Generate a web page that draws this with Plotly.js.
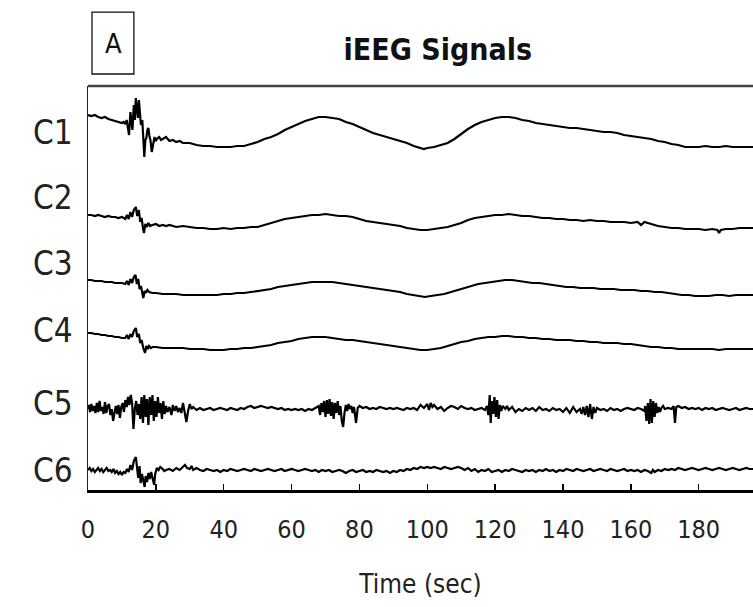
<!DOCTYPE html>
<html>
<head>
<meta charset="utf-8">
<script src="https://cdn.plot.ly/plotly-3.0.1.min.js"></script>
<style>html,body{margin:0;padding:0;background:#fff;}#chart{width:753px;height:607px;}</style>
</head>
<body>
<div id="chart"></div>
<script>
// ---- data: [time (sec), amplitude] per channel ----
const channels = ["C1", "C2", "C3", "C4", "C5", "C6"];
const baselines = [358, 270, 203, 147, 81, 20];
const xTicks = [0, 20, 40, 60, 80, 100, 120, 140, 160, 180];

const c1 = [[0,17],[1,16],[2,17],[3,15],[4,14],[5,15],[6,13],[7,12],[8,11],[9,10],[10,9],[10.5,10],[11,8],[11.4,12],[11.8,4],[12.1,-3],[12.5,20],[12.8,6],[13.1,2],[13.5,27],[13.8,12],[14.1,34],[14.4,20],[14.7,14],[15,32],[15.3,18],[15.6,7],[16,12],[16.3,-5],[16.6,-25],[16.9,-8],[17.2,-6],[17.5,2],[17.8,4],[18.1,-4],[18.4,-8],[18.8,-20],[19.2,-12],[19.6,-5],[20,-9],[20.5,-6],[21,-5],[21.5,-8],[22,-7],[23,-5],[24,-9],[25,-8],[26,-10],[27,-9],[28,-11],[30,-11],[32,-13],[34,-14],[36,-14],[38,-15],[40,-15],[42,-15],[44,-14],[46,-14],[48,-12],[50,-10],[52,-7],[54,-5],[56,-2],[58,2],[60,5],[62,8],[64,11],[66,13],[68,15],[70,15],[72,14],[74,13],[76,10],[78,8],[80,5],[82,2],[84,-1],[86,-3],[88,-5],[90,-7],[92,-9],[94,-11],[96,-14],[98,-16],[99,-17],[100,-16],[102,-15],[104,-13],[106,-11],[108,-7],[110,-2],[112,3],[114,7],[116,10],[118,12],[120,14],[122,15],[124,15],[126,14],[128,12],[130,11],[132,9],[134,8],[136,7],[138,6],[140,5],[142,4],[144,4],[146,3],[148,2],[150,1],[152,0],[154,0],[156,-1],[158,-3],[160,-4],[162,-5],[164,-6],[166,-7],[168,-9],[170,-10],[172,-12],[174,-13],[176,-15],[178,-15],[180,-15],[182,-14],[184,-15],[186,-15],[188,-14],[190,-15],[192,-15],[194,-15],[196,-15]];

const c2 = [[0,5],[1,5],[2,4],[3,5],[4,4],[5,3],[6,4],[7,3],[8,3],[9,2],[10,3],[11,1],[11.5,5],[12,1],[12.5,8],[13,3],[13.5,10],[14.1,13],[14.5,4],[15,10],[15.4,-2],[15.8,2],[16.2,-8],[16.5,-13],[16.9,-4],[17.3,-7],[17.8,-3],[18.3,-6],[19,-5],[20,-4],[21,-6],[22,-5],[23,-6],[24,-5],[26,-7],[28,-6],[30,-7],[32,-8],[34,-8],[36,-9],[38,-9],[40,-8],[42,-9],[44,-8],[46,-8],[48,-7],[50,-7],[52,-5],[54,-3],[56,-1],[58,1],[60,2],[62,3],[64,4],[66,5],[68,5],[70,6],[72,5],[74,4],[76,4],[78,3],[80,1],[82,-1],[84,-2],[86,-3],[88,-4],[90,-5],[92,-6],[94,-8],[96,-9],[98,-10],[100,-10],[102,-9],[104,-8],[106,-7],[108,-5],[110,-3],[112,0],[114,2],[116,3],[118,4],[120,5],[122,5],[124,6],[126,5],[128,4],[130,4],[132,3],[134,2],[136,2],[138,1],[140,1],[142,0],[144,0],[146,-1],[148,0],[150,-1],[152,-1],[154,-2],[156,-2],[158,-2],[160,-3],[162,-2],[163,-5],[164,-2],[166,-4],[168,-6],[170,-7],[172,-8],[174,-8],[176,-9],[178,-9],[180,-9],[182,-10],[184,-9],[185.5,-10],[186,-13],[186.5,-10],[188,-9],[190,-9],[192,-8],[194,-8],[196,-8]];

const c3 = [[0,7],[1,7],[2,6],[3,6],[4,6],[5,5],[6,5],[7,5],[8,4],[9,4],[10,4],[11,3],[11.5,6],[12,2],[12.5,8],[13,4],[13.5,10],[14,12],[14.4,3],[14.8,8],[15.2,-2],[15.6,1],[16,-6],[16.3,-11],[16.7,-4],[17,-6],[17.5,-3],[18,-5],[19,-6],[20,-6],[22,-7],[24,-7],[26,-7],[28,-8],[30,-8],[32,-8],[34,-8],[36,-8],[38,-8],[40,-7],[42,-7],[44,-6],[46,-6],[48,-5],[50,-4],[52,-3],[54,-2],[56,0],[58,1],[60,2],[62,3],[64,4],[66,5],[68,5],[70,5],[72,5],[74,4],[76,3],[78,2],[80,1],[82,0],[84,-1],[86,-2],[88,-3],[90,-4],[92,-5],[94,-7],[96,-8],[98,-9],[99.3,-10],[101,-9],[103,-8],[105,-7],[107,-5],[109,-3],[111,-1],[113,1],[115,3],[117,4],[119,5],[121,6],[123,7],[125,7],[127,6],[129,5],[131,4],[133,4],[135,3],[137,2],[139,1],[141,0],[143,0],[145,-1],[147,-1],[149,-1],[151,-2],[153,-2],[155,-2],[157,-3],[159,-3],[161,-3],[163,-4],[165,-4],[167,-5],[169,-5],[171,-6],[173,-7],[175,-8],[177,-8],[179,-9],[181,-9],[183,-9],[185,-8],[187,-8],[189,-9],[191,-8],[193,-8],[196,-8]];

const c4 = [[0,10],[1,10],[2,9],[3,9],[4,8],[5,8],[6,7],[7,7],[8,6],[9,6],[10,5],[11,5],[11.5,8],[12,4],[12.5,9],[13,6],[13.5,12],[14.1,15],[14.5,6],[15,9],[15.4,0],[15.8,3],[16.3,-5],[16.8,-10],[17.2,-3],[17.6,-6],[18,-3],[18.5,-5],[19,-4],[20,-4],[22,-5],[24,-5],[26,-5],[28,-5],[30,-6],[32,-6],[34,-6],[36,-7],[38,-7],[40,-7],[42,-6],[44,-6],[46,-5],[48,-5],[50,-4],[52,-3],[54,-2],[56,0],[58,1],[60,2],[62,4],[64,5],[66,6],[68,6],[70,6],[72,5],[74,4],[76,3],[78,3],[80,2],[82,1],[84,0],[86,-1],[88,-2],[90,-3],[92,-4],[94,-5],[96,-6],[98,-7],[100,-7],[102,-6],[104,-5],[106,-3],[108,-1],[110,1],[112,2],[114,4],[116,5],[118,6],[120,6],[122,7],[124,7],[126,6],[128,6],[130,5],[132,5],[134,4],[136,4],[138,3],[140,3],[142,3],[144,2],[146,2],[148,1],[150,1],[152,0],[154,0],[156,0],[158,-1],[160,-1],[162,-2],[164,-3],[166,-4],[168,-4],[170,-5],[172,-5],[174,-6],[176,-6],[178,-6],[180,-6],[182,-6],[184,-6],[186,-7],[188,-6],[190,-6],[192,-6],[194,-6],[196,-6]];

const c5 = [[0,0],[0.3,4],[0.6,-3],[1,5],[1.4,-2],[1.8,3],[2.2,-4],[2.6,6],[3,-3],[3.4,8],[3.8,-2],[4.2,2],[4.6,-5],[5,7],[5.4,-4],[5.8,3],[6.2,5],[6.6,-6],[7,0],[7.4,-12],[7.8,-4],[8.2,3],[8.6,-5],[9,4],[9.4,-9],[9.8,2],[10.2,6],[10.6,-3],[11,9],[11.4,2],[11.8,12],[12.2,4],[12.6,14],[13,6],[13.4,-20],[13.8,0],[14.2,8],[14.6,-6],[15,5],[15.4,-10],[15.8,12],[16.2,-14],[16.6,14],[17,-8],[17.4,10],[17.8,-16],[18.2,12],[18.6,-6],[19,14],[19.4,-12],[19.8,8],[20.2,-8],[20.6,12],[21,-4],[21.4,6],[21.8,-10],[22.2,8],[22.6,-5],[23,3],[23.4,-3],[24,2],[24.6,-6],[25,4],[25.5,-2],[26,3],[26.5,-3],[27,1],[27.5,-4],[28,6],[28.5,-3],[29,-13],[29.5,-2],[30,5],[30.5,0],[31,2],[32,-1],[33,1],[34,-1],[35,0],[36,1],[37,-1],[38,0],[39,1],[40,0],[41,-1],[42,1],[43,0],[44,-1],[45,1],[46,0],[47,2],[48,3],[49,1],[50,2],[51,3],[52,2],[53,1],[54,2],[55,1],[56,0],[57,1],[58,-1],[59,0],[60,-1],[61,0],[62,-1],[63,0],[64,-2],[65,0],[66,-1],[67,1],[68,3],[68.4,-6],[68.8,6],[69.2,-3],[69.6,8],[70,-8],[70.4,9],[70.8,-5],[71.2,10],[71.6,-7],[72,7],[72.4,-10],[72.8,6],[73.2,-4],[73.6,8],[74,-6],[74.4,3],[74.8,-12],[75.2,-18],[75.6,-4],[76,4],[76.4,-2],[76.8,5],[77.2,0],[77.6,3],[78,-4],[78.4,2],[79,-14],[79.5,1],[80,3],[81,1],[82,2],[83,0],[84,1],[85,0],[86,2],[87,1],[88,0],[89,1],[90,0],[91,1],[92,0],[93,-1],[94,1],[95,0],[96,1],[97,-1],[98,4],[99,1],[100,5],[100.5,-1],[101,6],[101.5,2],[102,4],[103,0],[104,2],[105,-2],[106,1],[107,3],[108,2],[109,0],[110,3],[111,1],[112,0],[113,1],[114,-1],[115,0],[116,1],[117,-1],[117.6,3],[118,-6],[118.4,14],[118.7,-14],[119,8],[119.4,-5],[119.8,12],[120.2,-8],[120.6,9],[121,-10],[121.4,4],[121.8,-2],[122.2,3],[123,0],[123.5,3],[124,-1],[125,2],[126,-3],[127,0],[128,-2],[129,1],[130,-1],[131,1],[132,-2],[133,2],[134,-1],[135,0],[136,-2],[137,1],[138,-1],[139,0],[140,-3],[141,1],[142,-4],[143,2],[144,-3],[145,0],[145.5,-5],[146,2],[146.5,-6],[147,3],[147.5,-8],[148,5],[148.5,-10],[149,2],[149.5,-4],[150,1],[151,-1],[152,0],[153,-2],[154,1],[155,-1],[156,0],[157,-2],[158,0],[159,1],[160,0],[161,-1],[162,1],[163,0],[164,-2],[164.2,3],[164.6,-12],[165,6],[165.4,-15],[165.8,10],[166.2,-14],[166.6,8],[167,-8],[167.4,6],[167.8,-4],[168.2,2],[168.6,-3],[169,1],[169.5,3],[170,0],[171,1],[172,0],[172.6,3],[173,-14],[173.4,2],[174,3],[175,1],[176,2],[177,0],[178,1],[179,0],[180,1],[181,-1],[182,1],[183,0],[184,1],[185,-1],[186,0],[187,1],[188,0],[189,-1],[190,0],[191,1],[192,-1],[193,0],[194,1],[195,0],[196,0]];

const c6 = [[0,0],[0.5,2],[1,-1],[1.5,1],[2,-2],[2.5,0],[3,2],[3.5,-1],[4,1],[4.5,-2],[5,0],[5.5,2],[6,-1],[6.5,0],[7,-2],[7.5,1],[8,-3],[8.5,-1],[9,-4],[9.5,-2],[10,-5],[10.5,-2],[11,-3],[11.5,1],[12,-2],[12.5,5],[13,0],[13.5,9],[14.1,13],[14.5,2],[14.8,-8],[15.2,4],[15.5,-13],[15.9,-4],[16.3,-10],[16.7,-17],[17,-6],[17.4,-12],[17.8,-3],[18.2,-9],[18.6,-2],[19,-8],[19.5,-15],[19.8,-4],[20.3,2],[20.8,0],[21.3,3],[22,1],[22.5,-1],[23,0],[24,1],[25,-1],[26,2],[27,0],[28,3],[28.6,5],[29.2,2],[30,1],[30.5,4],[31,0],[32,2],[33,0],[34,-1],[35,1],[36,0],[37,-1],[38,0],[39,-2],[40,0],[41,-1],[42,1],[43,0],[44,-1],[45,0],[46,1],[47,0],[48,-1],[49,1],[50,0],[51,-1],[52,0],[53,1],[54,0],[55,-1],[56,0],[57,1],[58,-1],[59,0],[60,1],[61,0],[62,-1],[63,0],[64,1],[65,0],[66,-1],[67,0],[68,-2],[69,0],[70,-1],[71,0],[72,-2],[73,-1],[74,0],[75,-1],[76,-3],[77,-1],[78,0],[79,-2],[80,-1],[81,0],[82,-2],[83,-1],[84,-2],[85,0],[86,-1],[87,-2],[88,-1],[89,-3],[90,-1],[91,-2],[92,0],[93,-1],[94,1],[95,0],[96,2],[97,1],[98,3],[99,2],[100,3],[101,2],[102,3],[103,2],[104,1],[105,3],[106,2],[107,1],[108,2],[109,3],[110,2],[111,0],[112,2],[113,-1],[114,1],[115,-2],[116,0],[117,-1],[118,1],[119,-2],[120,-1],[121,0],[122,-2],[123,0],[124,-1],[125,1],[126,0],[127,-1],[128,-2],[129,0],[130,-1],[131,0],[132,-2],[133,0],[134,-1],[135,1],[136,-1],[137,0],[138,-2],[139,0],[140,-1],[141,1],[142,0],[143,-1],[144,1],[145,0],[146,-1],[147,0],[148,1],[149,-1],[150,0],[151,1],[152,0],[153,-1],[154,1],[155,0],[156,-1],[157,0],[158,1],[159,-1],[160,0],[161,-1],[162,0],[163,-2],[164,0],[165,-1],[166,-3],[166.5,0],[167,-2],[168,0],[169,-1],[170,1],[171,0],[172,1],[173,0],[174,2],[175,1],[176,0],[177,1],[178,2],[179,1],[180,0],[181,1],[182,2],[183,1],[184,0],[185,1],[186,2],[187,1],[188,0],[189,1],[190,2],[191,1],[192,0],[193,1],[194,2],[195,1],[196,1]];

const signals = [c1, c2, c3, c4, c5, c6];

// ---- drawing ----
const FONT = "'Liberation Sans Narrow', 'Arial Narrow', 'DejaVu Sans Condensed', sans-serif";
const labelShift = [0, 23, 24, 13, 6, 0]; // label offset above signal baseline (layout only)

const traces = signals.map((sig, i) => ({
  type: 'scatter',
  mode: 'lines',
  name: channels[i],
  x: sig.map(p => p[0]),
  y: sig.map(p => p[1] + baselines[i]),
  line: {color: '#000', width: 2.2},
  hoverinfo: 'x+name'
}));

const annotations = channels.map((c, i) => ({
  text: c, xref: 'paper', yref: 'y',
  x: -0.02, y: baselines[i] + labelShift[i],
  xanchor: 'right', yanchor: 'middle', showarrow: false,
  font: {family: FONT, size: 33, color: '#222'}
}));
annotations.push({
  text: 'A', xref: 'paper', yref: 'paper', x: 0.0376, y: 1.106,
  xanchor: 'center', yanchor: 'middle', showarrow: false,
  font: {family: FONT, size: 27, color: '#111'}
});

const layout = {
  width: 753, height: 607,
  margin: {l: 88, r: 0, t: 86, b: 117},
  paper_bgcolor: '#fff', plot_bgcolor: '#fff',
  showlegend: false,
  title: {
    text: 'iEEG Signals', xref: 'paper', x: 0.526, xanchor: 'center',
    yref: 'container', y: 0.919, yanchor: 'middle',
    font: {family: FONT, size: 30, weight: 'bold', color: '#111'}
  },
  xaxis: {
    range: [0, 196], showgrid: false, zeroline: false,
    showline: true, linewidth: 3, linecolor: '#000',
    ticks: 'inside', ticklen: 6, tickwidth: 1.5, tickcolor: '#000',
    tickvals: xTicks, ticktext: xTicks.map(String),
    ticklabelstandoff: 15,
    tickfont: {family: FONT, size: 25, color: '#222'},
    title: {text: 'Time (sec)', standoff: 32, font: {family: FONT, size: 26, color: '#222'}}
  },
  yaxis: {
    range: [0, 404], showgrid: false, zeroline: false,
    showline: true, linewidth: 1.5, linecolor: '#222',
    showticklabels: false, ticks: ''
  },
  shapes: [
    {type: 'line', xref: 'paper', yref: 'paper', x0: 0, x1: 1, y0: 1, y1: 1,
     line: {color: '#444', width: 2.5}},
    {type: 'rect', xref: 'paper', yref: 'paper', x0: 0.006, x1: 0.069, y0: 1.0297, y1: 1.183,
     line: {color: '#111', width: 1.3}}
  ],
  annotations: annotations
};

Plotly.newPlot('chart', traces, layout, {displayModeBar: false, staticPlot: true});
</script>
</body>
</html>
